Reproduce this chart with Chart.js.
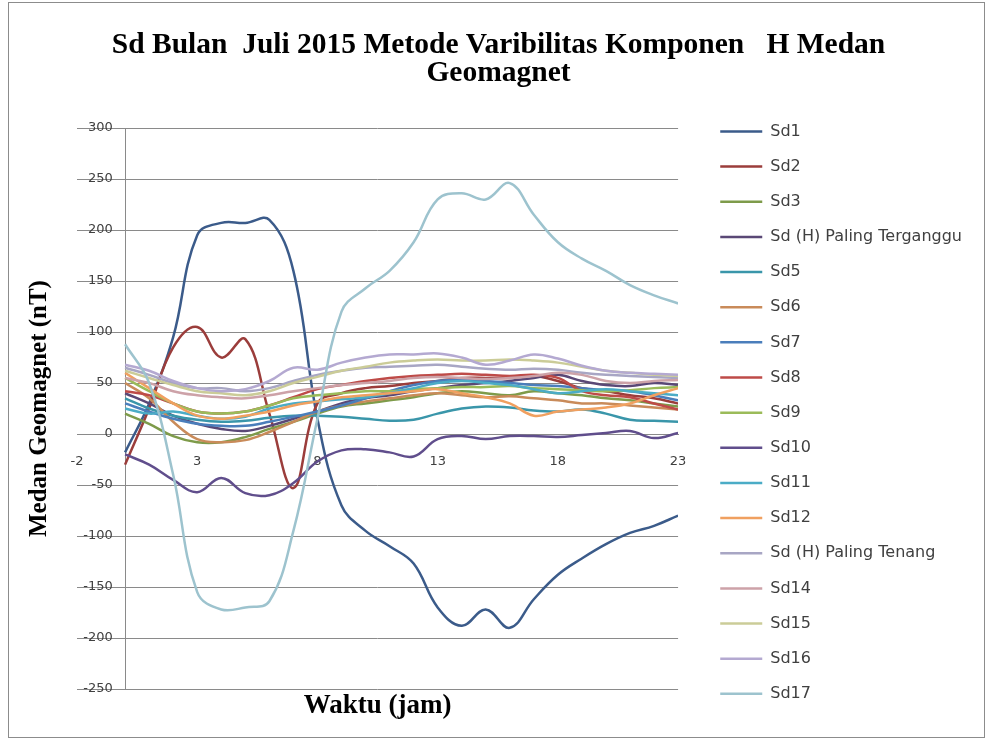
<!DOCTYPE html>
<html>
<head>
<meta charset="utf-8">
<script src="https://cdn.jsdelivr.net/npm/chart.js@4.4.1/dist/chart.umd.min.js"></script>
<style>
  html, body { margin: 0; background: #fff; }
  #wrap { position: relative; width: 987px; height: 742px; }
  #frame { position: absolute; left: 8px; top: 2px; width: 975px; height: 734px; border: 1px solid #8c8c8c; pointer-events: none; }
</style>
</head>
<body>
<div id="wrap">
  <canvas id="chart" width="987" height="742"></canvas>
  <div id="frame"></div>
</div>
<script>
// hours of the day (x values) and the tick labels Excel showed on the axis
const hours = [0, 1, 2, 3, 4, 5, 6, 7, 8, 9, 10, 11, 12, 13, 14, 15, 16, 17, 18, 19, 20, 21, 22, 23];
const xTickValues = [-2, 3, 8, 13, 18, 23];

const seriesNames = [
  "Sd1", "Sd2", "Sd3", "Sd (H) Paling Terganggu", "Sd5", "Sd6", "Sd7", "Sd8", "Sd9",
  "Sd10", "Sd11", "Sd12", "Sd (H) Paling Tenang", "Sd14", "Sd15", "Sd16", "Sd17"
];

// values (nT)
const sd1  = [-18, 30, 95, 195, 207, 207, 210, 160, 15, -70, -95, -110, -127, -170, -188, -172, -190, -162, -138, -122, -108, -97, -90, -80];
const sd2  = [-30, 25, 85, 105, 75, 93, 20, -53, 30, 40, 45, 47, 50, 52, 55, 55, 55, 57, 52, 45, 42, 38, 35, 30];
const sd3  = [20, 10, -2, -8, -8, -3, 5, 12, 20, 27, 30, 33, 36, 40, 42, 40, 38, 42, 40, 38, 35, 33, 30, 27];
const sd4  = [40, 30, 18, 10, 5, 3, 8, 15, 22, 30, 35, 38, 42, 45, 48, 50, 52, 55, 58, 52, 48, 47, 50, 48];
const sd5  = [35, 25, 18, 14, 12, 13, 16, 18, 18, 17, 15, 13, 14, 20, 25, 27, 26, 23, 22, 24, 20, 14, 13, 12];
const sd6  = [50, 35, 12, -5, -8, -6, 2, 12, 22, 28, 32, 35, 38, 40, 38, 36, 37, 35, 33, 30, 30, 28, 26, 24];
const sd7  = [30, 22, 15, 10, 8, 8, 12, 17, 22, 28, 35, 42, 48, 52, 53, 52, 50, 48, 47, 45, 43, 42, 38, 33];
const sd8  = [42, 38, 30, 22, 20, 22, 28, 36, 44, 48, 52, 55, 57, 58, 59, 58, 57, 58, 55, 42, 38, 36, 30, 24];
const sd9  = [55, 42, 30, 22, 20, 22, 28, 35, 38, 40, 42, 42, 44, 45, 46, 46, 47, 45, 44, 43, 42, 43, 45, 46];
const sd10 = [-20, -30, -45, -57, -43, -58, -60, -48, -27, -16, -15, -18, -22, -5, -2, -5, -2, -2, -3, -1, 1, 3, -4, 1];
const sd11 = [25, 20, 22, 18, 15, 17, 25, 30, 32, 34, 36, 40, 45, 50, 52, 50, 48, 44, 40, 42, 44, 42, 40, 38];
const sd12 = [60, 45, 30, 18, 15, 18, 22, 28, 32, 36, 38, 40, 42, 44, 40, 36, 30, 18, 22, 24, 26, 30, 38, 45];
const sd13 = [65, 58, 50, 45, 45, 42, 45, 52, 58, 62, 65, 66, 67, 68, 66, 64, 63, 64, 63, 60, 58, 57, 56, 55];
const sd14 = [55, 50, 42, 38, 36, 35, 38, 42, 45, 48, 50, 52, 55, 56, 55, 54, 55, 57, 60, 58, 52, 50, 52, 53];
const sd15 = [62, 55, 48, 42, 40, 38, 42, 50, 56, 62, 66, 70, 72, 73, 72, 72, 73, 72, 70, 66, 62, 60, 58, 57];
const sd16 = [68, 62, 52, 45, 42, 44, 52, 65, 63, 70, 75, 78, 78, 79, 75, 68, 72, 78, 74, 67, 62, 60, 59, 58];
const sd17 = [88, 50, -40, -155, -172, -170, -164, -95, 15, 120, 143, 160, 188, 230, 236, 230, 246, 215, 188, 172, 160, 146, 136, 128];

const seriesValues = [sd1, sd2, sd3, sd4, sd5, sd6, sd7, sd8, sd9, sd10, sd11, sd12, sd13, sd14, sd15, sd16, sd17];

const seriesColors = [
  "#3b5b8a", "#9b3d3b", "#7e9b4a", "#5a4876", "#3a96aa", "#c98b5a", "#4a7ebb", "#be4b48", "#9bbb59",
  "#604e8c", "#4bacc6", "#f0a060", "#a8a6c4", "#cda2a8", "#cbcc98", "#b4a9d1", "#9dc3ce"
];

const serif = "'Liberation Serif', 'Times New Roman', serif";
const sans = "'DejaVu Sans', sans-serif";
const gridColor = "#8a8a8a";
const textColor = "#404040";

new Chart(document.getElementById("chart"), {
  type: "line",
  data: {
    labels: hours,
    datasets: seriesValues.map((values, i) => ({
      label: seriesNames[i],
      data: values,
      borderColor: seriesColors[i],
      backgroundColor: seriesColors[i],
      borderWidth: 2.5,
      pointRadius: 0,
      tension: 0.4,
      // Excel paints later series on top
      order: seriesValues.length - i
    }))
  },
  options: {
    responsive: false,
    animation: false,
    layout: { padding: { left: 25, right: 15, top: 0, bottom: 20 } },
    plugins: {
      title: {
        display: true,
        text: ["Sd Bulan  Juli 2015 Metode Varibilitas Komponen   H Medan", "Geomagnet"],
        color: "#000",
        font: { family: serif, size: 29.5, weight: "bold", lineHeight: 0.95 },
        padding: { top: 31, bottom: 41 }
      },
      legend: {
        position: "right",
        align: "start",
        maxWidth: 320,
        // empty title only pushes the entries down to the plot's top
        title: { display: true, text: " ", font: { size: 10 }, padding: { top: 92.3, bottom: 0 } },
        labels: {
          usePointStyle: true,
          pointStyle: "line",
          pointStyleWidth: 42,
          padding: 19.15,
          color: textColor,
          font: { family: sans, size: 16 },
          sort: (a, b) => a.datasetIndex - b.datasetIndex
        }
      },
      tooltip: { enabled: false }
    },
    scales: {
      x: {
        type: "linear",
        position: { y: 0 },
        min: -2,
        max: 23,
        afterBuildTicks: (scale) => {
          scale.ticks = xTickValues.map((v) => ({ value: v }));
        },
        grid: { display: false },
        border: { color: gridColor },
        ticks: { color: textColor, font: { family: sans, size: 13 }, padding: 12 }
      },
      y: {
        type: "linear",
        position: { x: 0 },
        min: -250,
        max: 300,
        ticks: {
          stepSize: 50, color: textColor, font: { family: sans, size: 13 },
          // labels sit right against the crossing axis; keep a small gap
          callback: (v) => v + "   "
        },
        grid: { color: gridColor, drawTicks: false },
        border: { color: gridColor }
      },
      xTitle: {
        axis: "x",
        type: "linear",
        position: "bottom",
        ticks: { display: false },
        grid: { display: false },
        border: { display: false },
        title: { display: true, text: "Waktu (jam)", color: "#000", padding: 0,
                 font: { family: serif, size: 27, weight: "bold" } },
        afterFit: (scale) => { scale.height = 33; }
      },
      yTitle: {
        axis: "y",
        type: "linear",
        position: "left",
        ticks: { display: false },
        grid: { display: false },
        border: { display: false },
        title: { display: true, text: "Medan Geomagnet (nT)", color: "#000", padding: 0,
                 font: { family: serif, size: 25, weight: "bold" } },
        afterFit: (scale) => { scale.width = 52; }
      },
      gap: {
        axis: "y",
        type: "linear",
        position: "right",
        ticks: { display: false },
        grid: { display: false },
        border: { display: false },
        afterFit: (scale) => { scale.width = 23; }
      }
    }
  }
});
</script>
</body>
</html>
